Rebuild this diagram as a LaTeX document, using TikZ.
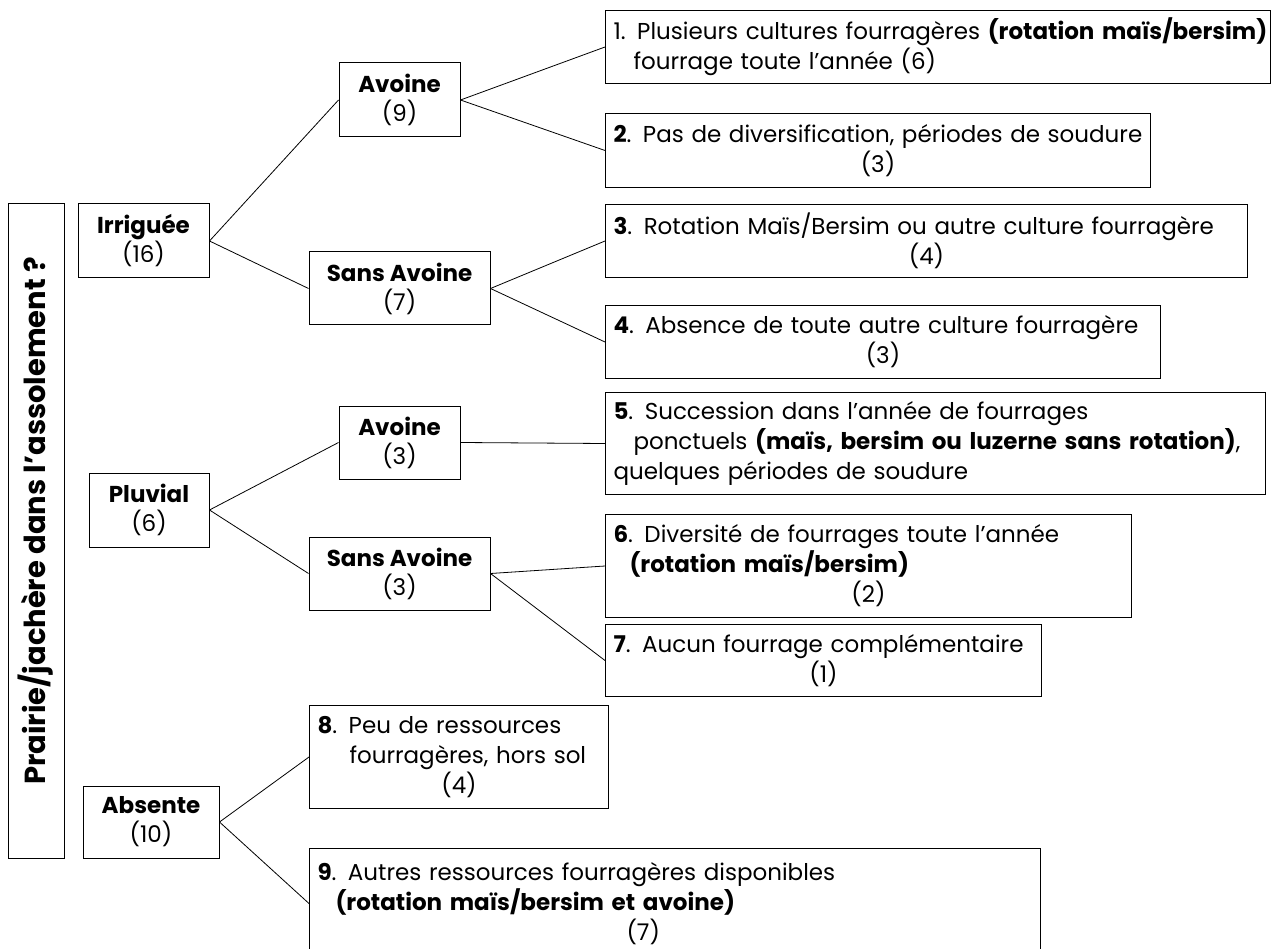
\documentclass[tikz,border=0pt]{standalone}
\usepackage{fontspec}
\setmainfont{Poppins}
\newcommand\ctrline[2]{\makebox[#1][c]{#2}}
\begin{document}
\begin{tikzpicture}[x=1pt,y=-1pt,
  mid/.style={draw, line width=1pt, inner sep=0pt, align=center,
    font=\fontsize{23}{29}\selectfont},
  leaf/.style={draw, line width=1pt, anchor=north west, inner xsep=8pt,
    inner ysep=0pt, align=left, font=\fontsize{23}{30}\selectfont},
  link/.style={line width=0.8pt}]
\useasboundingbox (0,0) rectangle (1271,949);

% root
\node[draw, line width=1pt, rotate=90, minimum width=654pt, minimum height=56pt,
  inner sep=0pt, font=\fontsize{29}{30}\selectfont\bfseries] (root) at (36,531)
  {\hspace*{20pt}Prairie/jachère dans l’assolement ?};

% first level
\node[mid, minimum width=131pt, minimum height=74pt] (irr) at (143.5,241) {\textbf{Irriguée}\\(16)};
\node[mid, minimum width=120pt, minimum height=74pt] (plu) at (149,510) {\textbf{Pluvial}\\(6)};
\node[mid, minimum width=136pt, minimum height=72pt] (abs) at (151,822) {\textbf{Absente}\\(10)};

% second level
\node[mid, minimum width=121pt, minimum height=74pt] (av1) at (399.5,100) {\textbf{Avoine}\\(9)};
\node[mid, minimum width=181pt, minimum height=73pt] (sa1) at (399.5,288.5) {\textbf{Sans Avoine}\\(7)};
\node[mid, minimum width=121pt, minimum height=73pt] (av2) at (399.5,442.5) {\textbf{Avoine}\\(3)};
\node[mid, minimum width=181pt, minimum height=73pt] (sa2) at (399.5,573.5) {\textbf{Sans Avoine}\\(3)};

% leaves
\node[leaf, text width=649pt, minimum height=73pt] (b1) at (605,10)
  {\mbox{1. Plusieurs cultures fourragères \textbf{(rotation maïs/bersim)}}\\
   \mbox{\hspace*{20pt}fourrage toute l’année (6)}};
\node[leaf, text width=529pt, minimum height=74pt] (b2) at (605,113)
  {\mbox{\textbf{2}. Pas de diversification, périodes de soudure}\\
   \ctrline{529pt}{(3)}};
\node[leaf, text width=626pt, minimum height=73pt] (b3) at (605,204)
  {\mbox{\textbf{3}. Rotation Maïs/Bersim ou autre culture fourragère}\\
   \ctrline{626pt}{(4)}};
\node[leaf, text width=539pt, minimum height=73pt] (b4) at (605,305)
  {\mbox{\textbf{4}. Absence de toute autre culture fourragère}\\
   \ctrline{539pt}{(3)}};
\node[leaf, text width=644pt, minimum height=102pt] (b5) at (605,392)
  {\mbox{\textbf{5}. Succession dans l’année de fourrages}\\
   \mbox{\hspace*{20pt}ponctuels \textbf{(maïs, bersim ou luzerne sans rotation)},}\\
   \mbox{quelques périodes de soudure}};
\node[leaf, text width=510pt, minimum height=103pt] (b6) at (605,514)
  {\mbox{\textbf{6}. Diversité de fourrages toute l’année}\\
   \mbox{\hspace*{16pt}\textbf{(rotation maïs/bersim)}}\\
   \ctrline{510pt}{(2)}};
\node[leaf, text width=420pt, minimum height=72pt] (b7) at (605,624)
  {\mbox{\textbf{7}. Aucun fourrage complémentaire}\\
   \ctrline{420pt}{(1)}};
\node[leaf, text width=283pt, minimum height=103pt] (b8) at (309,705)
  {\mbox{\textbf{8}. Peu de ressources}\\
   \mbox{\hspace*{32pt}fourragères, hors sol}\\
   \ctrline{283pt}{(4)}};
\node[leaf, text width=715pt, minimum height=110pt] (b9) at (309,848)
  {\mbox{\textbf{9}. Autres ressources fourragères disponibles}\\
   \mbox{\hspace*{18pt}\textbf{(rotation maïs/bersim et avoine)}}\\
   \mbox{\hspace*{309pt}(7)}};

% connectors
\draw[link] (irr.east) -- (av1.west);
\draw[link] (irr.east) -- (sa1.west);
\draw[link] (plu.east) -- (av2.west);
\draw[link] (plu.east) -- (sa2.west);
\draw[link] (av1.east) -- (b1.west);
\draw[link] (av1.east) -- (b2.west);
\draw[link] (sa1.east) -- (b3.west);
\draw[link] (sa1.east) -- (b4.west);
\draw[link] (av2.east) -- (b5.west);
\draw[link] (sa2.east) -- (b6.west);
\draw[link] (sa2.east) -- (b7.west);
\draw[link] (abs.east) -- (b8.west);
\draw[link] (abs.east) -- (b9.west);
\end{tikzpicture}
\end{document}
